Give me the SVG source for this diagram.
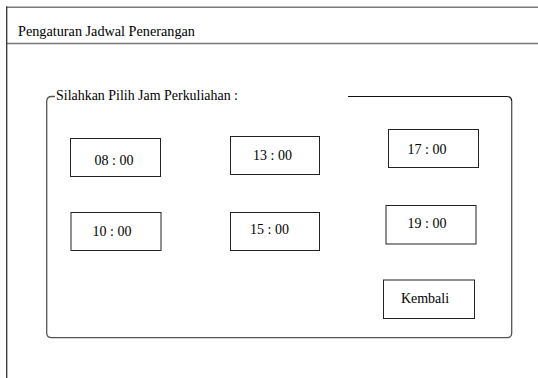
<svg xmlns="http://www.w3.org/2000/svg" width="538" height="378" viewBox="0 0 538 378">
<style>
.btn rect{fill:#fff;stroke:#222;stroke-width:1}
.frame{fill:none;stroke:#7a7a7a;stroke-width:1.5}
text{font-family:"Liberation Serif","Times New Roman",serif;font-size:14px;fill:#000}
</style>
<rect width="538" height="378" fill="#fff"/>
<g id="window">
<line class="frame" x1="6" y1="7.3" x2="538" y2="7.3"/>
<line class="frame" x1="6" y1="43.5" x2="538" y2="43.5"/>
<line x1="6.7" y1="6.6" x2="6.7" y2="378" stroke="#333" stroke-width="1.3"/>
<text x="18" y="36" textLength="177" lengthAdjust="spacingAndGlyphs">Pengaturan Jadwal Penerangan</text>
</g>
<g id="groupbox">
<path d="M348 96.5 H506.7 Q511.7 96.5 511.7 101.5" fill="none" stroke="#111" stroke-width="1.2"/>
<path d="M511.7 101.5 V332.7 Q511.7 337.7 506.7 337.7 H51.7 Q46.7 337.7 46.7 332.7 V101.5 Q46.7 96.5 51.7 96.5 H55" fill="none" stroke="#555" stroke-width="1.3"/>
<text x="56" y="100" textLength="182" lengthAdjust="spacingAndGlyphs">Silahkan Pilih Jam Perkuliahan :</text>
</g>
<g id="btn-0800" class="btn"><rect x="70.5" y="138.5" width="90" height="38"/><text x="114" y="164.5" text-anchor="middle">08 : 00</text></g>
<g id="btn-1300" class="btn"><rect x="230.5" y="136.5" width="89" height="38"/><text x="272.5" y="160" text-anchor="middle">13 : 00</text></g>
<g id="btn-1700" class="btn"><rect x="388.5" y="129.5" width="90" height="38"/><text x="427" y="154" text-anchor="middle">17 : 00</text></g>
<g id="btn-1000" class="btn"><rect x="71" y="212.5" width="90" height="38"/><text x="112" y="236" text-anchor="middle">10 : 00</text></g>
<g id="btn-1500" class="btn"><rect x="230.5" y="212.5" width="89" height="38"/><text x="269.5" y="234.3" text-anchor="middle">15 : 00</text></g>
<g id="btn-1900" class="btn"><rect x="386" y="205.5" width="90" height="38.5"/><text x="427" y="228.3" text-anchor="middle">19 : 00</text></g>
<g id="btn-kembali" class="btn"><rect x="383.5" y="280" width="91" height="38.5"/><text x="425" y="303" text-anchor="middle">Kembali</text></g>
<g id="connectors"></g>
</svg>
